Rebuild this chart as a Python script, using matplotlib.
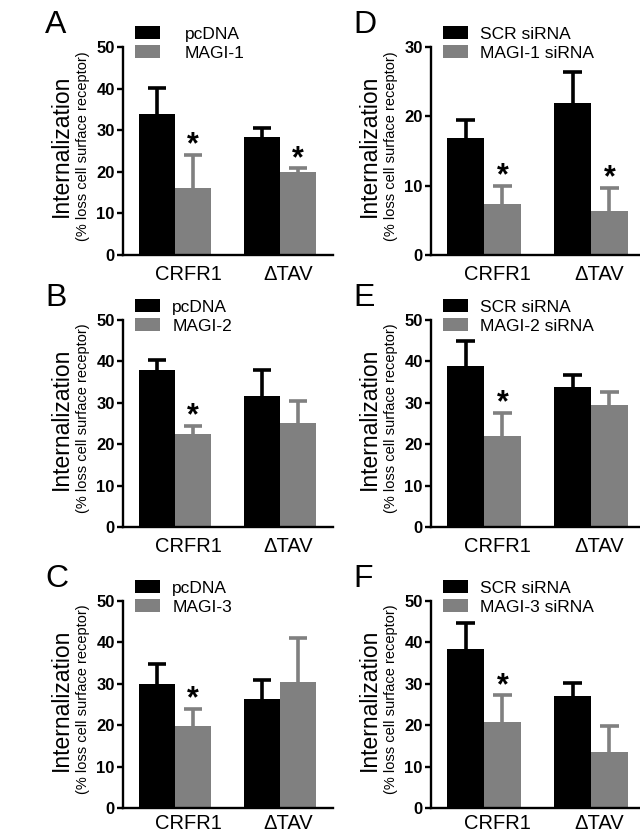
import numpy as np
import matplotlib
matplotlib.use('Agg')
import matplotlib.pyplot as plt

plt.rcParams['font.family'] = ['Liberation Sans', 'DejaVu Sans']

# data: mean and SEM (upper whisker) per group
groups = ['CRFR1', '\u0394TAV']

a_ctrl = [34.0, 28.4]; a_ctrl_sem = [6.2, 2.2]
a_trt = [16.2, 19.9]; a_trt_sem = [7.9, 0.9]
b_ctrl = [37.9, 31.7]; b_ctrl_sem = [2.5, 6.2]
b_trt = [22.4, 25.2]; b_trt_sem = [2.0, 5.3]
c_ctrl = [30.0, 26.3]; c_ctrl_sem = [4.7, 4.5]
c_trt = [19.7, 30.4]; c_trt_sem = [4.3, 10.7]
d_ctrl = [16.9, 21.9]; d_ctrl_sem = [2.6, 4.5]
d_trt = [7.4, 6.3]; d_trt_sem = [2.6, 3.4]
e_ctrl = [39.0, 33.8]; e_ctrl_sem = [5.9, 3.0]
e_trt = [22.0, 29.5]; e_trt_sem = [5.6, 3.2]
f_ctrl = [38.3, 27.1]; f_ctrl_sem = [6.3, 3.2]
f_trt = [20.7, 13.5]; f_trt_sem = [6.5, 6.4]

ctrl_labels = ['pcDNA', 'pcDNA', 'pcDNA', 'SCR siRNA', 'SCR siRNA', 'SCR siRNA']
trt_labels = ['MAGI-1', 'MAGI-2', 'MAGI-3', 'MAGI-1 siRNA', 'MAGI-2 siRNA', 'MAGI-3 siRNA']
letters = ['A', 'B', 'C', 'D', 'E', 'F']
ymax = [50, 50, 50, 30, 50, 50]
stars = [[True, True], [True, False], [True, False],
         [True, True], [True, False], [True, False]]

panels = [(a_ctrl, a_ctrl_sem, a_trt, a_trt_sem),
          (b_ctrl, b_ctrl_sem, b_trt, b_trt_sem),
          (c_ctrl, c_ctrl_sem, c_trt, c_trt_sem),
          (d_ctrl, d_ctrl_sem, d_trt, d_trt_sem),
          (e_ctrl, e_ctrl_sem, e_trt, e_trt_sem),
          (f_ctrl, f_ctrl_sem, f_trt, f_trt_sem)]

W, H = 640, 834
fig = plt.figure(figsize=(W / 100, H / 100), dpi=100)

BLACK = '#000000'
GRAY = '#808080'

# pixel layout: (spine x, right x, top y, bottom y)
boxes = [(123, 333, 47, 255), (123, 333, 320, 527), (123, 333, 601, 808),
         (431, 640, 47, 255), (431, 640, 320, 527), (431, 640, 601, 808)]
text_pad = [1.4, 0.7, 0.7, 0.7, 0.7, 0.7]
xlab_pad = [7, 7, 4.5, 7, 7, 4.5]

x = np.arange(len(groups))
w = 0.345
cap = 0.085


def up_err(ax, xs, mean, sem, color):
    # only the upper whisker, drawn behind the bar
    top = np.array(mean) + np.array(sem)
    ax.vlines(xs, mean, top, color=color, lw=2.6, zorder=1)
    ax.hlines(top, xs - cap, xs + cap, color=color, lw=2.6, zorder=1)


for i, (ctrl, ctrl_sem, trt, trt_sem) in enumerate(panels):
    x0, x1, y0, y1 = boxes[i]
    ax = fig.add_axes([x0 / W, 1 - y1 / H, (x1 - x0) / W, (y1 - y0) / H])
    ax.bar(x - w / 2, ctrl, w, color=BLACK, label=ctrl_labels[i], zorder=2)
    ax.bar(x + w / 2, trt, w, color=GRAY, label=trt_labels[i], zorder=2)
    up_err(ax, x - w / 2, ctrl, ctrl_sem, BLACK)
    up_err(ax, x + w / 2, trt, trt_sem, GRAY)
    for j in range(2):
        if stars[i][j]:
            ax.annotate('*', (x[j] + w / 2, trt[j] + trt_sem[j]),
                        xytext=(0, -4), textcoords='offset points',
                        ha='center', va='bottom', fontsize=22, fontweight='bold')

    ppu = 105 if i < 3 else 107
    ax.set_xlim(-0.495, -0.495 + (x1 - x0) / ppu)
    ax.set_ylim(0, ymax[i])
    ax.set_yticks(np.arange(0, ymax[i] + 1, 10))
    ax.set_xticks(x + np.array([0.13, 0.08]))
    ax.set_xticklabels(groups, fontsize=14.5)
    ax.tick_params(axis='x', length=0, pad=xlab_pad[i])
    ax.tick_params(axis='y', length=4, width=1.7, pad=2, labelsize=12)
    for lab in ax.get_yticklabels():
        lab.set_fontweight('bold')
    for s in ['top', 'right']:
        ax.spines[s].set_visible(False)
    for s in ['left', 'bottom']:
        ax.spines[s].set_linewidth(1.7)

    ax.legend(loc='upper left', bbox_to_anchor=(12 / (x1 - x0), 1 + 21 / (y1 - y0)),
              frameon=False, fontsize=12.5, handlelength=1.45, handleheight=0.8,
              handletextpad=text_pad[i], labelspacing=0.2, borderpad=0,
              borderaxespad=0)

    yc = (y0 + y1) / 2 - 5
    fig.text((x0 - 62) / W, 1 - yc / H, 'Internalization', rotation=90,
             ha='center', va='center', fontsize=16.5)
    fig.text((x0 - 40) / W, 1 - yc / H, '(% loss cell surface receptor)',
             rotation=90, ha='center', va='center', fontsize=10.5)
    fig.text((x0 - 78) / W, 1 - (y0 - 37) / H, letters[i], ha='left', va='top',
             fontsize=23)

fig.savefig('out.png', dpi=100)
